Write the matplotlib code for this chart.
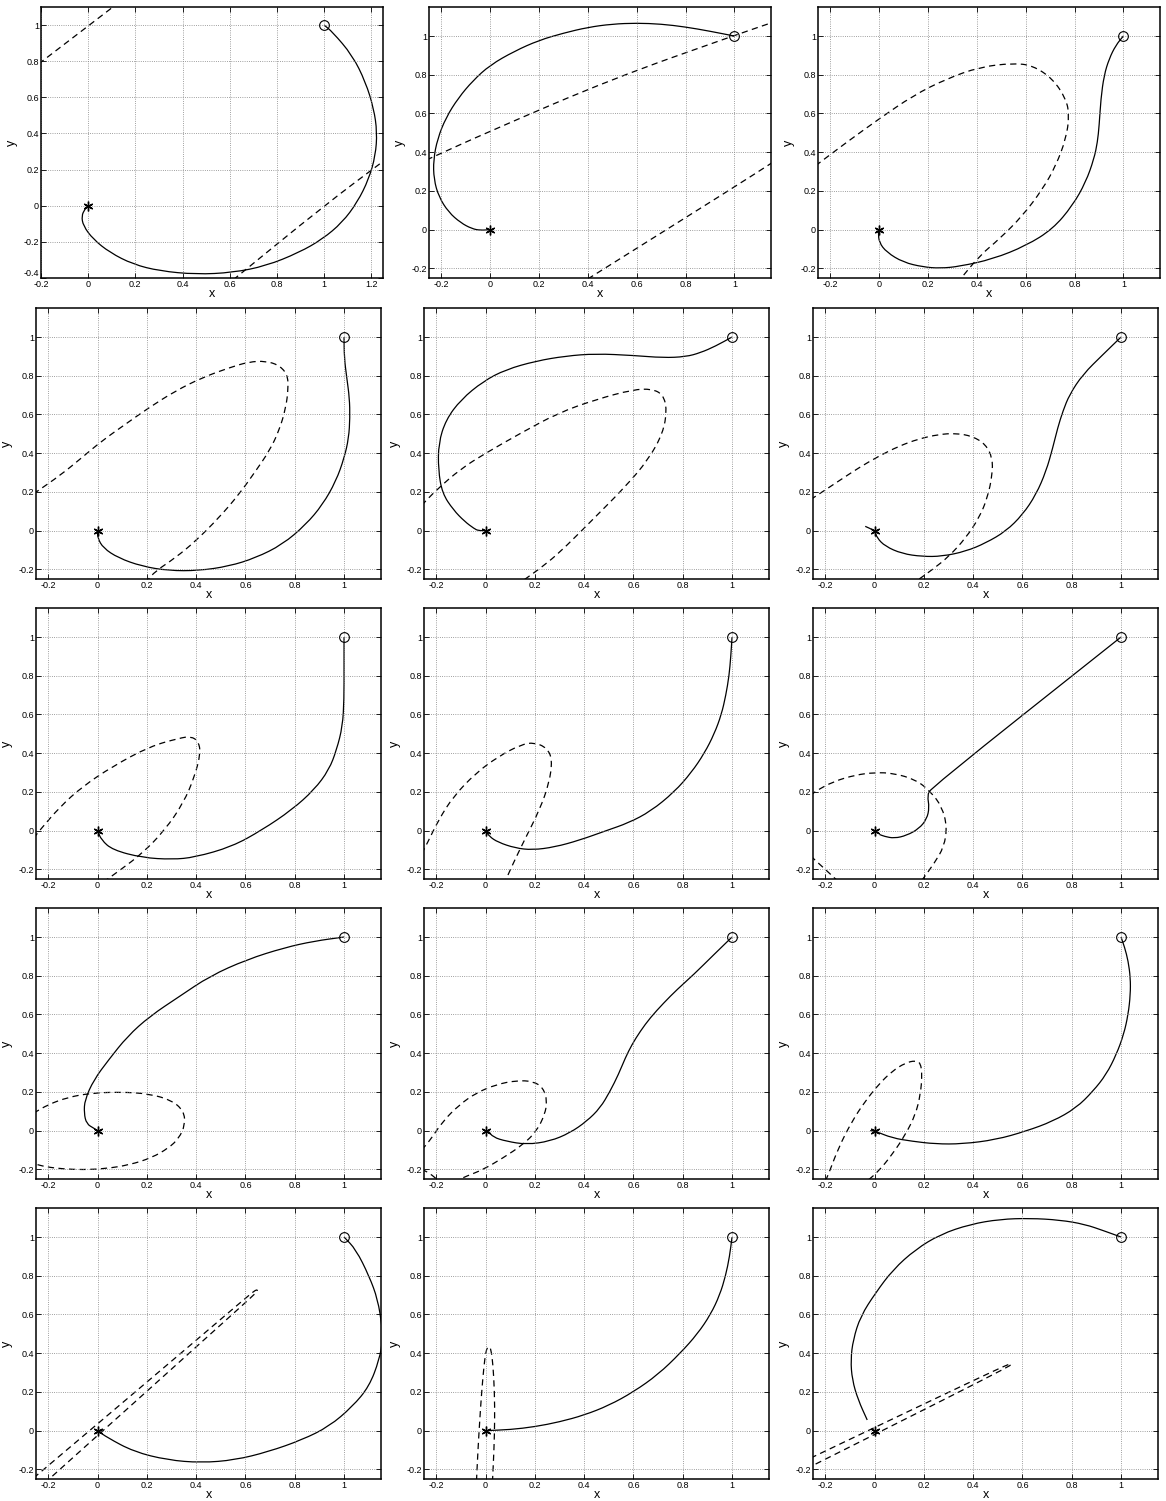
import matplotlib
matplotlib.use("Agg")
import matplotlib.pyplot as plt
from matplotlib.path import Path
from matplotlib.patches import PathPatch
from matplotlib.ticker import MultipleLocator, FuncFormatter

plt.rcParams['font.family'] = ['Liberation Sans', 'DejaVu Sans']
plt.rcParams['axes.unicode_minus'] = False

# start and goal of every run
START = (0.0, 0.0)
GOAL = (1.0, 1.0)

# --- trajectories (solid) and boundary curves (dashed), one set per run ---
p01_path = [(1, 1), (1.035, 0.963), (1.12, 0.833), (1.176, 0.685), (1.211, 0.537), (1.225, 0.407),
            (1.218, 0.278), (1.19, 0.148), (1.141, 0.019), (1.077, -0.093), (0.993, -0.185),
            (0.894, -0.259), (0.754, -0.333), (0.613, -0.37), (0.458, -0.38), (0.303, -0.361),
            (0.19, -0.324), (0.092, -0.259), (0.021, -0.185), (-0.021, -0.111), (-0.028, -0.056),
            (-0.014, -0.019), (0, 0)]
p01_bound_a = [(-0.21, 0.785), (0.12, 1.115)]
p01_bound_b = [(0.615, -0.41), (1.0, 0.0), (1.26, 0.255)]

p02_path = [(1, 1), (0.9, 1.025), (0.8, 1.047), (0.7, 1.062), (0.6, 1.067), (0.5, 1.062), (0.4, 1.045),
            (0.3, 1.015), (0.2, 0.978), (0.1, 0.922), (0, 0.85), (-0.07, 0.77), (-0.13, 0.68),
            (-0.18, 0.58), (-0.215, 0.47), (-0.232, 0.36), (-0.23, 0.26), (-0.21, 0.17),
            (-0.17, 0.09), (-0.12, 0.035), (-0.075, 0.005), (-0.04, -0.004), (0, 0)]
p02_bound_a = [(-0.26, 0.36), (0, 0.509), (0.5, 0.779), (1.0, 1.003), (1.16, 1.072)]
p02_bound_b = [(0.4, -0.255), (1.0, 0.22), (1.16, 0.35)]

p03_path = [(1, 1), (0.969, 0.952), (0.942, 0.883), (0.921, 0.797), (0.908, 0.676), (0.901, 0.538),
            (0.894, 0.452), (0.88, 0.366), (0.846, 0.245), (0.792, 0.124), (0.711, 0.003),
            (0.602, -0.083), (0.466, -0.152), (0.33, -0.19), (0.25, -0.2), (0.18, -0.193),
            (0.099, -0.169), (0.031, -0.117), (0, -0.066), (-0.003, -0.014), (0, 0)]
p03_bound = [(-0.26, 0.33), (-0.132, 0.452), (0, 0.572), (0.14, 0.693), (0.276, 0.779), (0.412, 0.84),
             (0.548, 0.86), (0.629, 0.848), (0.711, 0.779), (0.765, 0.676), (0.779, 0.59),
             (0.765, 0.469), (0.724, 0.331), (0.67, 0.21), (0.588, 0.072), (0.493, -0.048),
             (0.412, -0.134), (0.33, -0.26)]

p04_path = [(1, 1), (1.001, 0.893), (1.011, 0.79), (1.022, 0.686), (1.024, 0.583), (1.019, 0.479),
            (1.001, 0.376), (0.967, 0.255), (0.913, 0.134), (0.845, 0.031), (0.75, -0.072),
            (0.641, -0.141), (0.533, -0.184), (0.41, -0.207), (0.288, -0.207), (0.179, -0.184),
            (0.084, -0.141), (0.023, -0.09), (0, -0.038), (0, 0)]
p04_bound = [(-0.26, 0.19), (-0.147, 0.29), (-0.065, 0.376), (0.016, 0.462), (0.111, 0.548),
             (0.207, 0.634), (0.315, 0.721), (0.424, 0.79), (0.533, 0.841), (0.614, 0.872),
             (0.682, 0.876), (0.736, 0.855), (0.77, 0.807), (0.774, 0.738), (0.764, 0.634),
             (0.736, 0.514), (0.696, 0.41), (0.641, 0.307), (0.573, 0.186), (0.492, 0.066),
             (0.397, -0.055), (0.315, -0.141), (0.234, -0.21), (0.2, -0.26)]

p05_path = [(1, 1), (0.933, 0.953), (0.872, 0.919), (0.812, 0.898), (0.72, 0.893), (0.599, 0.905),
            (0.447, 0.914), (0.325, 0.902), (0.204, 0.876), (0.082, 0.832), (-0.009, 0.772),
            (-0.1, 0.677), (-0.161, 0.573), (-0.191, 0.452), (-0.192, 0.314), (-0.176, 0.193),
            (-0.131, 0.107), (-0.085, 0.047), (-0.046, 0.01), (-0.03, 0.0), (0, 0)]
p05_bound = [(-0.26, 0.13), (-0.2, 0.21), (-0.1, 0.32), (0, 0.4), (0.143, 0.504), (0.295, 0.608),
             (0.447, 0.677), (0.599, 0.729), (0.675, 0.732), (0.72, 0.703), (0.736, 0.625),
             (0.72, 0.504), (0.66, 0.366), (0.568, 0.228), (0.447, 0.073), (0.325, -0.083),
             (0.249, -0.169), (0.15, -0.26)]

p06_path = [(-0.038, 0.022), (0, 0), (0.01, -0.038), (0.043, -0.081), (0.111, -0.119), (0.193, -0.134),
            (0.274, -0.133), (0.37, -0.107), (0.451, -0.064), (0.533, -0.003), (0.601, 0.083),
            (0.655, 0.186), (0.696, 0.307), (0.723, 0.428), (0.743, 0.531), (0.764, 0.617),
            (0.791, 0.703), (0.845, 0.807), (0.927, 0.91), (1, 1)]
p06_bound = [(-0.26, 0.16), (-0.147, 0.255), (-0.065, 0.324), (0.016, 0.384), (0.098, 0.436),
             (0.179, 0.474), (0.261, 0.497), (0.329, 0.503), (0.397, 0.488), (0.451, 0.445),
             (0.478, 0.376), (0.478, 0.29), (0.458, 0.169), (0.424, 0.066), (0.37, -0.038),
             (0.302, -0.133), (0.234, -0.202), (0.17, -0.26)]

p07_path = [(1, 1), (1.0, 0.85), (1.0, 0.677), (0.994, 0.539), (0.97, 0.418), (0.939, 0.314),
            (0.879, 0.211), (0.788, 0.107), (0.667, 0.003), (0.545, -0.083), (0.394, -0.138),
            (0.303, -0.149), (0.182, -0.14), (0.061, -0.1), (0.015, -0.048), (0, 0)]
p07_bound = [(-0.26, -0.04), (-0.236, 0), (-0.152, 0.124), (-0.061, 0.228), (0.061, 0.332),
             (0.212, 0.435), (0.333, 0.478), (0.379, 0.487), (0.409, 0.461), (0.418, 0.401),
             (0.394, 0.28), (0.348, 0.142), (0.273, 0.003), (0.182, -0.117), (0.091, -0.204),
             (0.03, -0.26)]

p08_path = [(1, 1), (0.995, 0.9), (0.988, 0.8), (0.975, 0.7), (0.957, 0.6), (0.928, 0.5), (0.888, 0.4),
            (0.835, 0.3), (0.766, 0.2), (0.67, 0.1), (0.58, 0.04), (0.49, 0.0), (0.38, -0.05),
            (0.28, -0.085), (0.19, -0.1), (0.12, -0.09), (0.05, -0.06), (0.015, -0.03), (0, 0)]
p08_bound = [(-0.26, -0.12), (-0.237, -0.066), (-0.191, 0.055), (-0.131, 0.176), (-0.04, 0.297),
             (0.052, 0.383), (0.143, 0.444), (0.198, 0.456), (0.249, 0.427), (0.271, 0.366),
             (0.258, 0.245), (0.219, 0.107), (0.158, -0.048), (0.112, -0.169), (0.08, -0.26)]

p09_path = [(1, 1), (0.227, 0.219), (0.214, 0.18), (0.222, 0.12), (0.212, 0.06), (0.18, 0.01),
            (0.13, -0.025), (0.08, -0.04), (0.04, -0.03), (0.02, -0.02)]
p09_bound_a = [(-0.26, 0.18), (-0.242, 0.202), (-0.167, 0.254), (-0.076, 0.288), (0, 0.3), (0.076, 0.297),
               (0.167, 0.263), (0.227, 0.202), (0.273, 0.124), (0.294, 0.021), (0.282, -0.083),
               (0.242, -0.169), (0.19, -0.26)]
p09_bound_b = [(-0.26, -0.13), (-0.242, -0.152), (-0.197, -0.204), (-0.15, -0.26)]

p10_path = [(1, 1), (0.879, 0.979), (0.758, 0.945), (0.606, 0.884), (0.455, 0.798), (0.333, 0.694),
            (0.212, 0.591), (0.121, 0.487), (0.045, 0.366), (-0.015, 0.263), (-0.052, 0.159),
            (-0.055, 0.09), (-0.045, 0.035), (-0.015, 0.012), (0, 0)]
p10_bound = [(-0.26, 0.09), (-0.2, 0.135), (-0.12, 0.172), (-0.03, 0.193), (0.091, 0.2), (0.212, 0.19),
             (0.303, 0.155), (0.35, 0.1), (0.355, 0.03), (0.33, -0.04), (0.288, -0.09), (0.22, -0.14),
             (0.13, -0.177), (0.03, -0.197), (-0.06, -0.202), (-0.14, -0.198), (-0.212, -0.187),
             (-0.26, -0.17)]

p11_path = [(1, 1), (0.927, 0.91), (0.845, 0.807), (0.777, 0.729), (0.723, 0.66), (0.668, 0.583),
            (0.628, 0.514), (0.594, 0.445), (0.567, 0.376), (0.539, 0.29), (0.505, 0.203),
            (0.465, 0.117), (0.41, 0.048), (0.342, -0.012), (0.261, -0.055), (0.166, -0.072),
            (0.084, -0.055), (0.03, -0.034), (0.01, 0), (0, 0)]
p11_bound_a = [(-0.26, -0.1), (-0.228, -0.055), (-0.174, 0.048), (-0.106, 0.134), (-0.038, 0.195),
               (0.043, 0.238), (0.125, 0.259), (0.193, 0.255), (0.234, 0.221), (0.25, 0.152),
               (0.24, 0.083), (0.207, -0.003), (0.152, -0.072), (0.071, -0.141), (-0.011, -0.202),
               (-0.079, -0.236), (-0.12, -0.26)]
p11_bound_b = [(-0.26, -0.2), (-0.228, -0.219), (-0.19, -0.26)]

p12_path = [(1, 1), (1.015, 0.945), (1.029, 0.876), (1.038, 0.79), (1.038, 0.703), (1.029, 0.6),
            (1.011, 0.497), (0.981, 0.393), (0.94, 0.29), (0.886, 0.203), (0.818, 0.117),
            (0.723, 0.048), (0.614, -0.003), (0.492, -0.047), (0.356, -0.069), (0.247, -0.069),
            (0.152, -0.055), (0.071, -0.038), (0.003, -0.003), (-0.018, 0.0)]
p12_bound = [(-0.2, -0.26), (-0.188, -0.228), (-0.147, -0.09), (-0.092, 0.048), (-0.038, 0.152),
             (0.016, 0.238), (0.071, 0.307), (0.125, 0.35), (0.166, 0.362), (0.186, 0.35),
             (0.193, 0.29), (0.186, 0.186), (0.166, 0.083), (0.125, -0.021), (0.071, -0.124),
             (0.016, -0.21), (-0.03, -0.26)]

p13_path = [(1, 1), (1.048, 0.936), (1.102, 0.798), (1.137, 0.677), (1.154, 0.539), (1.157, 0.47),
            (1.143, 0.366), (1.102, 0.228), (1.034, 0.124), (0.939, 0.021), (0.829, -0.048),
            (0.693, -0.109), (0.557, -0.152), (0.42, -0.166), (0.284, -0.152), (0.147, -0.109),
            (0.038, -0.035), (0, 0)]
p13_bound = [(-0.26, -0.245), (0, 0.035), (0.2, 0.251), (0.4, 0.467), (0.55, 0.63), (0.62, 0.705),
             (0.64, 0.725), (0.648, 0.727), (0.648, 0.72), (0.63, 0.696), (0.5, 0.547), (0.3, 0.318),
             (0.1, 0.089), (0, -0.025), (-0.2, -0.254)]

p14_path = [(0, 0), (0.1, 0.005), (0.2, 0.02), (0.3, 0.045), (0.4, 0.08), (0.5, 0.13), (0.6, 0.2),
            (0.7, 0.29), (0.79, 0.4), (0.86, 0.5), (0.913, 0.6), (0.95, 0.7), (0.974, 0.8),
            (0.99, 0.9), (1, 1)]
p14_bound = [(-0.037, -0.26), (-0.031, -0.1), (-0.024, 0.05), (-0.016, 0.2), (-0.007, 0.33), (0.0, 0.4),
             (0.007, 0.43), (0.014, 0.435), (0.022, 0.42), (0.03, 0.34), (0.036, 0.2), (0.037, 0.05),
             (0.034, -0.1), (0.028, -0.26)]

p15_path = [(1, 1), (0.933, 1.031), (0.853, 1.066), (0.752, 1.088), (0.63, 1.097), (0.509, 1.092),
            (0.388, 1.066), (0.267, 1.014), (0.166, 0.936), (0.075, 0.832), (0.004, 0.712),
            (-0.057, 0.591), (-0.087, 0.47), (-0.097, 0.366), (-0.091, 0.263), (-0.067, 0.159),
            (-0.03, 0.055)]
p15_bound = [(-0.26, -0.142), (0, 0.016), (0.3, 0.198), (0.5, 0.318), (0.545, 0.343), (0.555, 0.345),
             (0.555, 0.342), (0.54, 0.328), (0.3, 0.172), (0, -0.02), (-0.26, -0.186)]

runs = [
    (p01_path, [p01_bound_a, p01_bound_b]),
    (p02_path, [p02_bound_a, p02_bound_b]),
    (p03_path, [p03_bound]),
    (p04_path, [p04_bound]),
    (p05_path, [p05_bound]),
    (p06_path, [p06_bound]),
    (p07_path, [p07_bound]),
    (p08_path, [p08_bound]),
    (p09_path, [p09_bound_a, p09_bound_b]),
    (p10_path, [p10_bound]),
    (p11_path, [p11_bound_a, p11_bound_b]),
    (p12_path, [p12_bound]),
    (p13_path, [p13_bound]),
    (p14_path, [p14_bound]),
    (p15_path, [p15_bound]),
]


def smooth(pts):
    # quadratic Bezier path: each listed point acts as a control point,
    # the curve runs through the midpoints between neighbours
    mids = [((x0 + x1) / 2, (y0 + y1) / 2) for (x0, y0), (x1, y1) in zip(pts[:-1], pts[1:])]
    verts = [pts[0], mids[0]]
    codes = [Path.MOVETO, Path.LINETO]
    for k in range(1, len(pts) - 1):
        verts += [pts[k], mids[k]]
        codes += [Path.CURVE3, Path.CURVE3]
    verts.append(pts[-1])
    codes.append(Path.LINETO)
    return Path(verts, codes)


def tick_fmt(v, pos):
    v = round(v, 3)
    if abs(v) < 1e-9:
        return "0"
    return f"{v:g}"


def tick_fmt_first(v, pos):
    # the bottom-left corner label of the first plot is placed by hand
    if abs(v + 0.4) < 1e-6:
        return ""
    return tick_fmt(v, pos)


W, H = 1166, 1501
fig = plt.figure(figsize=(W / 100, H / 100), dpi=100)

# first row sits a little to the right of the others
lefts_top_row, w_top_row = [41, 429, 818], 342
lefts, ax_w = [36, 424, 813], 345
row_top = [7, 308, 608, 908, 1208]
ax_h = 271

for i, (path, bounds) in enumerate(runs):
    r, c = divmod(i, 3)
    if r == 0:
        left, width = lefts_top_row[c], w_top_row
    else:
        left, width = lefts[c], ax_w
    top = row_top[r]
    ax = fig.add_axes([left / W, 1 - (top + ax_h) / H, width / W, ax_h / H])

    for b in bounds:
        ax.add_patch(PathPatch(smooth(b), fill=False, edgecolor="black", lw=0.9,
                               linestyle=(0, (5, 3.5))))
    ax.add_patch(PathPatch(smooth(path), fill=False, edgecolor="black", lw=0.9))

    ax.plot(*GOAL, marker="o", ms=7, mfc="none", mec="black", mew=0.8)
    ax.plot(*START, marker=(6, 2, 0), ms=7, color="black", mew=1.0)

    if i == 0:
        ax.set_xlim(-0.2, 1.25)
        ax.set_ylim(-0.4, 1.1)
    else:
        ax.set_xlim(-0.25, 1.15)
        ax.set_ylim(-0.25, 1.15)

    ax.xaxis.set_major_locator(MultipleLocator(0.2))
    ax.yaxis.set_major_locator(MultipleLocator(0.2))
    ax.xaxis.set_major_formatter(FuncFormatter(tick_fmt))
    ax.yaxis.set_major_formatter(FuncFormatter(tick_fmt_first if i == 0 else tick_fmt))
    ax.tick_params(direction="in", top=True, right=True, length=3.5, width=0.6,
                   labelsize=6.5, pad=1.5)
    ax.grid(True, linestyle=":", color="0.5", linewidth=0.6)
    for s in ax.spines.values():
        s.set_linewidth(1.1)

    ax.set_xlabel("x", fontsize=9, labelpad=-0.5)
    ax.set_ylabel("y", fontsize=9, labelpad=4)

    if i == 0:
        ax.annotate("-0.4", xy=(0, -0.4), xycoords=("axes fraction", "data"),
                    xytext=(-1.5, 3.5), textcoords="offset points",
                    ha="right", va="center", fontsize=6.5)

fig.savefig("out.png", dpi=100)
